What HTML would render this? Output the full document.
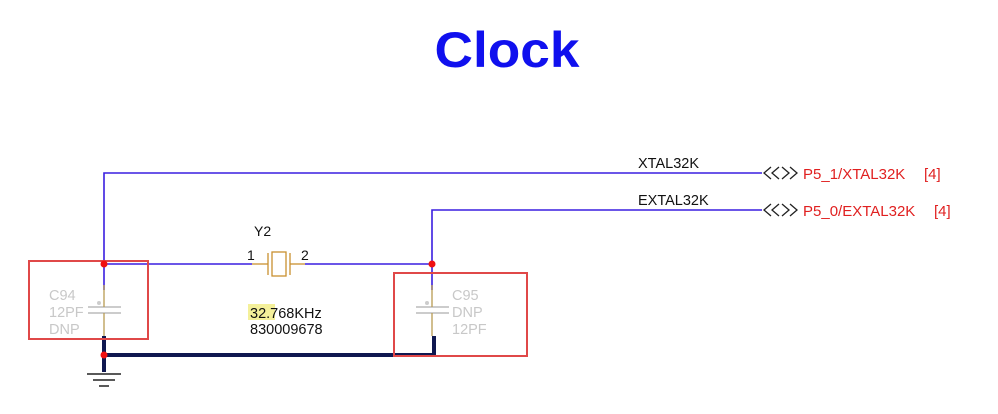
<!DOCTYPE html>
<html><head><style>
body{margin:0;background:#fff;width:998px;height:409px;overflow:hidden}
svg text{font-family:"Liberation Sans",sans-serif}
</style></head><body>
<svg width="998" height="409" viewBox="0 0 998 409">
<text x="507" y="67" text-anchor="middle" font-size="50" font-weight="bold" fill="#1010ee" textLength="145" lengthAdjust="spacingAndGlyphs">Clock</text>
<g stroke="#3a1ee0" stroke-width="1.6" fill="none">
<polyline points="104,290 104,173 762,173"/>
<polyline points="432,290 432,210 762,210"/>
<line x1="104" y1="264" x2="252" y2="264"/>
<line x1="305" y1="264" x2="432" y2="264"/>
</g>
<text x="638" y="168" font-size="14.5" fill="#111">XTAL32K</text>
<text x="638" y="205" font-size="14.5" fill="#111">EXTAL32K</text>
<g fill="none" stroke="#222" stroke-width="1.3">
<path d="M771,167 L764,173 L771,179 M779,167 L772,173 L779,179 M782,167 L789,173 L782,179 M790,167 L797,173 L790,179"/>
<path d="M771,204 L764,210 L771,216 M779,204 L772,210 L779,216 M782,204 L789,210 L782,216 M790,204 L797,210 L790,216"/>
</g>
<text x="803" y="179" font-size="15" fill="#e02020">P5_1/XTAL32K</text>
<text x="924" y="179" font-size="15" fill="#e02020">[4]</text>
<text x="803" y="216" font-size="15" fill="#e02020">P5_0/EXTAL32K</text>
<text x="934" y="216" font-size="15" fill="#e02020">[4]</text>
<text x="254" y="236" font-size="14" fill="#111">Y2</text>
<text x="247" y="260" font-size="14" fill="#111">1</text>
<text x="301" y="260" font-size="14" fill="#111">2</text>
<g stroke="#c89030" stroke-width="1.3" fill="none">
<line x1="252" y1="264" x2="268" y2="264"/><line x1="290" y1="264" x2="305" y2="264"/>
<line x1="268" y1="253" x2="268" y2="275"/><line x1="290" y1="253" x2="290" y2="275"/>
<rect x="272" y="252" width="14" height="24"/>
</g>
<rect x="248" y="304" width="27" height="16" fill="#f4f09a"/>
<text x="250" y="318" font-size="14.5" fill="#111">32.768KHz</text>
<text x="250" y="334" font-size="14.5" fill="#111">830009678</text>
<g stroke="#bbb" stroke-width="1.5">
<line x1="88" y1="307" x2="121" y2="307"/><line x1="88" y1="313" x2="121" y2="313"/>
<line x1="416" y1="307" x2="449" y2="307"/><line x1="416" y1="313" x2="449" y2="313"/>
</g>
<circle cx="99" cy="303" r="2" fill="#ccc"/><circle cx="427" cy="303" r="2" fill="#ccc"/>
<g stroke="#b89a50" stroke-width="1.3">
<line x1="104" y1="285" x2="104" y2="307"/><line x1="104" y1="313" x2="104" y2="336"/>
<line x1="432" y1="285" x2="432" y2="307"/><line x1="432" y1="313" x2="432" y2="336"/>
</g>
<g font-size="14.5" fill="#c8c8c8">
<text x="49" y="300">C94</text><text x="49" y="317">12PF</text><text x="49" y="334">DNP</text>
<text x="452" y="300">C95</text><text x="452" y="317">DNP</text><text x="452" y="334">12PF</text>
</g>
<g stroke="#101850" stroke-width="4" fill="none">
<polyline points="104,336 104,372"/>
<polyline points="104,355 434,355 434,336"/>
</g>
<g stroke="#222" stroke-width="1.5">
<line x1="87" y1="374" x2="121" y2="374"/><line x1="93" y1="380" x2="115" y2="380"/><line x1="99" y1="386" x2="109" y2="386"/>
</g>
<g stroke="#e04848" stroke-width="2" fill="none">
<rect x="29" y="261" width="119" height="78"/>
<rect x="394" y="273" width="133" height="83"/>
</g>
<g fill="#f01010">
<circle cx="104" cy="264" r="3.5"/><circle cx="432" cy="264" r="3.5"/><circle cx="104" cy="355" r="3.5"/>
</g>
</svg>
</body></html>
